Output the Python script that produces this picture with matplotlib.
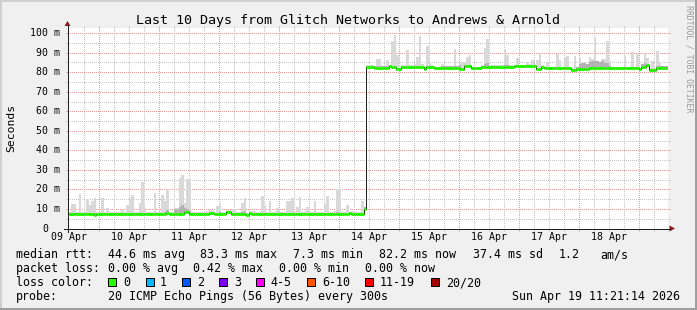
import numpy as np
import matplotlib
matplotlib.use("Agg")
import matplotlib.pyplot as plt
from matplotlib.patches import Polygon, Rectangle
from matplotlib.lines import Line2D
from matplotlib.transforms import Affine2D

# ---------------- data ----------------
title = "Last 10 Days from Glitch Networks to Andrews & Arnold"
y_axis_label = "Seconds"
watermark = "RRDTOOL / TOBI OETIKER"

day_labels = ["09 Apr", "10 Apr", "11 Apr", "12 Apr", "13 Apr",
              "14 Apr", "15 Apr", "16 Apr", "17 Apr", "18 Apr"]
day_label_hours = [12, 36, 60, 84, 108, 132, 156, 180, 204, 228]  # hours after 09 Apr 00:00
y_tick_ms = [0, 10, 20, 30, 40, 50, 60, 70, 80, 90, 100]

t_start = 11.5            # graph start (hours after 09 Apr 00:00)
t_span = 240.0            # 10 days
y_max = 102.9

# median rtt (ms) step changes: hour -> value
median_change_hours = [11, 22, 23, 51, 52, 54, 58, 60, 68, 70, 75, 77, 83, 84, 85,
                       124, 125, 130, 131, 134, 140, 141, 143, 145, 154, 155, 158,
                       161, 168, 170, 173, 177, 190, 195, 199, 201, 202, 213, 215,
                       216, 220, 229, 240, 241, 243, 244, 247]
median_change_ms = [7.4, 7.1, 7.4, 7.9, 7.4, 7.6, 8.3, 7.4, 7.9, 7.4, 8.5, 7.4, 6.9, 7.7, 7.4,
                    7.8, 7.4, 10.2, 82.8, 82.4, 83.0, 82.8, 81.8, 82.6, 81.9, 82.6, 82.0,
                    82.4, 81.8, 83.0, 82.0, 82.8, 83.0, 83.1, 81.8, 82.6, 82.0, 81.3, 81.9,
                    81.5, 82.4, 82.0, 81.4, 82.8, 83.5, 81.3, 82.4]

# smoke: highest ping per hourly bin (ms), where visible
smoke_hours = [11, 13, 14, 16, 19, 20, 21, 22, 25, 27, 33, 35, 36, 37, 40, 41, 42, 46, 49, 50,
               51, 54, 55, 56, 57, 58, 59, 60, 67, 68, 69, 71, 72, 77, 78, 81, 82, 85, 86, 89,
               90, 92, 95, 99, 100, 101, 103, 104, 106, 107, 110, 114, 115, 118, 119, 120, 123,
               125, 126, 129,
               135, 136, 139, 141, 142, 143, 147, 150, 151, 152, 153, 155, 156, 161, 166, 168,
               169, 170, 171, 172, 178, 179, 186, 187, 191, 195, 197, 199, 200, 203, 207, 208,
               210, 211, 214, 216, 218, 220, 221, 222, 223, 224, 225, 226, 227, 228, 234, 237,
               239, 242, 243, 245, 247, 248]
smoke_max_ms = [9.5, 12.5, 12.5, 17.6, 15.0, 12.0, 14.0, 15.4, 15.5, 10.6, 10.0, 12.0, 15.5, 17.0,
                13.0, 23.6, 10.6, 18.1, 17.2, 14.0, 20.3, 10.5, 10.5, 25.6, 27.3, 13.0, 25.3,
                25.3, 9.0, 9.5, 9.5, 11.5, 12.5, 10.0, 10.0, 13.0, 15.5, 9.0, 9.0, 16.5, 12.0,
                14.0, 10.5, 14.0, 14.0, 15.4, 11.0, 16.0, 9.0, 11.0, 14.0, 12.5, 16.4, 9.0, 20.0,
                20.0, 12.0, 9.0, 9.0, 14.0,
                86.8, 86.8, 86.2, 96.0, 99.0, 88.9, 91.4, 84.0, 87.9, 98.3, 84.0, 93.5, 85.4,
                84.0, 92.1, 85.4, 85.4, 85.4, 88.0, 88.6, 92.3, 97.0, 91.8, 88.9, 87.2, 85.0,
                86.2, 86.2, 90.0, 85.0, 89.5, 86.2, 88.0, 88.4, 88.4, 87.4, 84.5, 87.7, 86.9,
                98.1, 85.0, 85.0, 86.9, 86.9, 96.0, 85.5, 88.4, 90.6, 89.5, 90.0, 87.2, 85.5,
                90.9, 85.0]

# darker inner smoke band (ms)
dark_hours = [50, 51, 54, 55, 56, 57, 58, 59, 60, 72, 81, 82, 119,
              168, 178, 179, 186, 187, 216, 217, 218, 219, 220, 221, 222, 223, 224, 225,
              226, 227, 241, 242]
dark_ms = [8.6, 9.5, 9.8, 10.2, 10.8, 11.8, 10.5, 9.8, 9.0, 8.6, 8.5, 8.8, 8.2,
           83.6, 84.0, 84.6, 83.8, 83.8, 84.0, 84.5, 84.5, 84.0, 85.0, 85.5, 86.0, 85.5,
           85.0, 85.5, 84.5, 84.5, 84.0, 84.5]

legend_median = ["median rtt:", "44.6 ms avg", "83.3 ms max", "7.3 ms min",
                 "82.2 ms now", "37.4 ms sd", "1.2", "am/s"]
legend_loss = ["packet loss:", "0.00 % avg", "0.42 % max", "0.00 % min", "0.00 % now"]
loss_color_title = "loss color:"
loss_color_names = ["0", "1", "2", "3", "4-5", "6-10", "11-19", "20/20"]
loss_colors = ["#26ff00", "#00b8ff", "#0059ff", "#7e00ff", "#ff00ff", "#ff5500",
               "#ff0000", "#a10000"]
probe_title = "probe:"
probe_text = "20 ICMP Echo Pings (56 Bytes) every 300s"
timestamp = "Sun Apr 19 11:21:14 2026"

# ---------------- layout / style ----------------
W, H = 697, 310
MONO = "DejaVu Sans Mono"
plt.rcParams["font.family"] = [MONO]
BG = "#f0f0f0"
GRID_MINOR = "#c6c6c6"
GRID_MAJOR = "#e89c9c"
ARROW = "#8e1a1a"
AXIS = "#1f1f1f"

fig = plt.figure(figsize=(W / 100, H / 100), dpi=100, facecolor=BG)
T = Affine2D().scale(1, -1).translate(0, H)   # pixel coords, origin top-left

ax_left, ax_right, ax_top, ax_bottom = 67.5, 667.5, 27.5, 228.5
ax = fig.add_axes([ax_left / W, (H - ax_bottom) / H,
                   (ax_right - ax_left) / W, (ax_bottom - ax_top) / H])
ax.set_facecolor("white")
for s in ax.spines.values():
    s.set_visible(False)
ax.set_xlim(t_start, t_start + t_span)
ax.set_ylim(0, y_max)

# grid (1px dots, dash pattern aligned to pixel boundaries)
px = 0.72
dot = (0.5, (1, 1))
for h in range(18, 252, 6):
    if t_start < h < t_start + t_span:
        major = (h % 24 == 0)
        ax.axvline(h, color=GRID_MAJOR if major else GRID_MINOR, lw=px, ls=dot,
                   zorder=1, snap=True)
for v in range(5, 101, 5):
    major = (v % 10 == 0)
    ax.axhline(v, color=GRID_MAJOR if major else GRID_MINOR, lw=px, ls=dot,
               zorder=1, snap=True)

ax.set_xticks([h for h in range(24, 252, 24)])
ax.set_xticks([h for h in range(18, 252, 6) if h % 24 != 0 and h > t_start], minor=True)
ax.set_yticks(list(range(10, 101, 10)))
ax.set_yticks(list(range(5, 100, 10)), minor=True)
ax.tick_params(which="major", direction="out", length=1.5, width=px, color=GRID_MAJOR,
               left=True, right=True, top=True, bottom=True,
               labelleft=False, labelbottom=False)
ax.tick_params(which="minor", direction="out", length=1.5, width=px, color=GRID_MINOR,
               left=True, right=True, top=True, bottom=True)

# data per hourly bin
bins = np.arange(11, 252)
idx = np.searchsorted(median_change_hours, bins, side="right") - 1
med = np.array(median_change_ms)[idx]
lo = med - 0.6
hi = med + 0.9
dk = med + 0.6
smap = dict(zip(smoke_hours, smoke_max_ms))
dmap = dict(zip(dark_hours, dark_ms))
for i, b in enumerate(bins):
    if b in smap:
        hi[i] = smap[b]
    if b in dmap:
        dk[i] = dmap[b]

ax.bar(bins, hi - lo, bottom=lo, width=1.0, align="edge", color="#d9d9d9",
       linewidth=0, zorder=2)
ax.bar(bins, dk - lo, bottom=lo, width=1.0, align="edge", color="#b3b3b3",
       linewidth=0, zorder=3)
ax.step(np.append(bins, bins[-1] + 1), np.append(med, med[-1]), where="post",
        color="#202020", lw=px, zorder=4)
ax.hlines(med, bins, bins + 1, colors=loss_colors[0], lw=2.2, zorder=5, capstyle="butt")

# axes lines and arrows
fig.add_artist(Line2D([63.5, 670], [ax_bottom, ax_bottom], color=AXIS, lw=px, transform=T))
fig.add_artist(Line2D([ax_left, ax_left], [232, 25], color=AXIS, lw=px, transform=T))
fig.add_artist(Polygon([[64.5, 26], [70.5, 26], [67.5, 21]], closed=True,
                       color=ARROW, lw=0, transform=T))
fig.add_artist(Polygon([[669.5, 225.5], [669.5, 231.5], [675, 228.5]], closed=True,
                       color=ARROW, lw=0, transform=T))

# frame
fig.add_artist(Rectangle((0, 0), W, 2, color="#cfcfcf", lw=0, transform=T))
fig.add_artist(Rectangle((0, 0), 2, H, color="#cfcfcf", lw=0, transform=T))
fig.add_artist(Rectangle((0, H - 2), W, 2, color="#9e9e9e", lw=0, transform=T))
fig.add_artist(Rectangle((W - 2, 0), 2, H, color="#9e9e9e", lw=0, transform=T))

# texts
fig.text(347.7, 24, title, transform=T, ha="center", va="baseline", fontsize=9.6)
fig.text(14.5, 128, y_axis_label, transform=T, ha="center", va="baseline",
         rotation=90, rotation_mode="anchor", fontsize=8.2)
fig.text(687, 59, watermark, transform=T, ha="center", va="baseline",
         rotation=270, rotation_mode="anchor", fontsize=5.9, color="#9a9a9a")

for v in y_tick_ms:
    ypix = ax_bottom - v / y_max * (ax_bottom - ax_top)
    if v == 0:
        fig.text(48.4, ypix, "0", transform=T, ha="right", va="center", fontsize=7.1)
    else:
        fig.text(60.3, ypix, f"{v} m", transform=T, ha="right", va="center", fontsize=7.1)
for lab, h in zip(day_labels, day_label_hours):
    xpix = ax_left + (h - t_start) / t_span * (ax_right - ax_left)
    fig.text(xpix, 240, lab, transform=T, ha="center", va="baseline", fontsize=7.1)

LF = 8.4
med_x = [16.0, 107.7, 200.0, 293.3, 379.3, 472.7, 559.0, 600.0]
for s, x in zip(legend_median, med_x):
    fig.text(x, 258, s, transform=T, ha="left", va="baseline", fontsize=LF)
loss_x = [16.0, 107.7, 193.3, 279.3, 365.0]
for s, x in zip(legend_loss, loss_x):
    fig.text(x, 272, s, transform=T, ha="left", va="baseline", fontsize=LF)
fig.text(16.0, 286, loss_color_title, transform=T, ha="left", va="baseline", fontsize=LF)
box_x = [108.3, 145.7, 182.3, 219.0, 256.0, 307.3, 365.0, 430.7]
lab_x = [123.3, 160.0, 197.3, 234.0, 270.7, 322.0, 380.0, 445.7]
for name, col, bx, lx in zip(loss_color_names, loss_colors, box_x, lab_x):
    fig.add_artist(Rectangle((bx, 278), 8, 8, facecolor=col, edgecolor="black",
                             lw=px, transform=T))
    fig.text(lx, 286, name, transform=T, ha="left", va="baseline", fontsize=LF)
fig.text(16.0, 300, probe_title, transform=T, ha="left", va="baseline", fontsize=LF)
fig.text(107.7, 300, probe_text, transform=T, ha="left", va="baseline", fontsize=LF)
fig.text(680.5, 300, timestamp, transform=T, ha="right", va="baseline", fontsize=LF)

fig.savefig("out.png", dpi=100, facecolor=BG)
